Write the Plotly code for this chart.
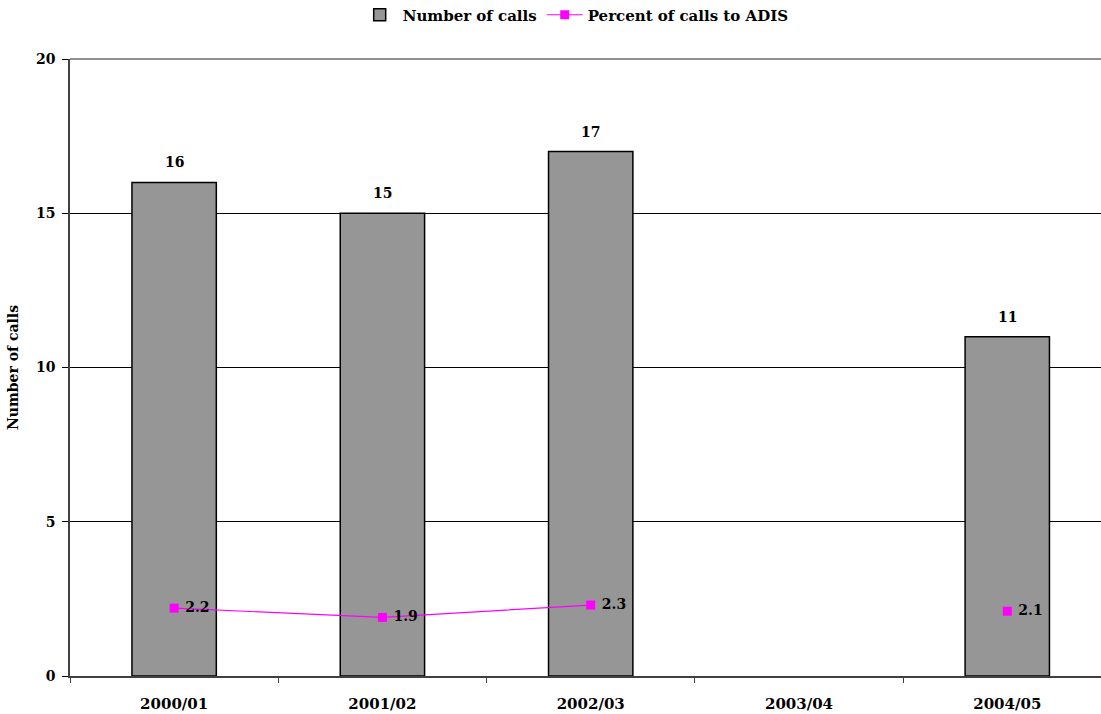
import plotly.graph_objects as go

# Financial years and the two series shown
years = ["2000/01", "2001/02", "2002/03", "2003/04", "2004/05"]
calls = [16, 15, 17, None, 11]
pct_adis = [2.2, 1.9, 2.3, None, 2.1]

FONT = "DejaVu Serif"
SIZE = 14

fig = go.Figure()

fig.add_trace(go.Bar(
    x=years, y=calls, name="<b>Number of calls</b>",
    marker=dict(color="#969696", line=dict(color="#000000", width=1.5)),
    width=0.405,
))

fig.add_trace(go.Scatter(
    x=years, y=pct_adis, name="<b>Percent of calls to ADIS</b>",
    mode="lines+markers+text",
    line=dict(color="#FF00FF", width=1.2),
    marker=dict(symbol="square", size=9, color="#FF00FF"),
    text=[("" if v is None else f"{v:.1f}") for v in pct_adis],
    texttemplate=" <b>%{text}</b>",
    textposition="middle right",
    textfont=dict(family=FONT, size=SIZE, color="#000000"),
    connectgaps=False,
    cliponaxis=False,
))

# Value labels above the bars
for yr, v in zip(years, calls):
    if v is None:
        continue
    fig.add_annotation(
        x=yr, y=v, text=f"<b>{v}</b>", showarrow=False,
        yanchor="bottom", yshift=10,
        font=dict(family=FONT, size=SIZE, color="#000000"),
    )

# Grey border along the top of the plotting area
fig.add_shape(type="line", xref="paper", yref="paper", x0=0, x1=1, y0=1, y1=1,
              line=dict(color="#909090", width=2))

fig.update_layout(
    width=1101, height=714,
    margin=dict(l=70, r=0, t=59, b=38),
    plot_bgcolor="#FFFFFF", paper_bgcolor="#FFFFFF",
    font=dict(family=FONT, size=SIZE, color="#000000"),
    showlegend=True,
    legend=dict(
        orientation="h", x=0.49, xanchor="center",
        yref="container", y=0.979, yanchor="middle",
        font=dict(family=FONT, size=15, color="#000000"),
        traceorder="normal", itemwidth=36,
    ),
)

fig.update_xaxes(
    type="category", range=[-0.5, 4.45],
    automargin=False,
    showline=True, linecolor="#404040", linewidth=1.5,
    ticks="outside", tickson="boundaries", ticklen=5, tickcolor="#404040",
    showgrid=False,
    ticklabelstandoff=13,
    tickprefix="<b>", ticksuffix="</b>",
    tickfont=dict(family=FONT, size=15, color="#000000"),
)
fig.update_yaxes(
    range=[0, 20], dtick=5,
    automargin=False,
    showline=True, linecolor="#404040", linewidth=1.5,
    ticks="outside", ticklen=6, tickcolor="#000000",
    showgrid=True, gridcolor="#000000", gridwidth=1,
    zeroline=False,
    ticklabelstandoff=4,
    tickprefix="<b>", ticksuffix="</b>",
    tickfont=dict(family=FONT, size=SIZE, color="#000000"),
    title=dict(text="<b>Number of calls</b>", font=dict(family=FONT, size=SIZE), standoff=14),
)

fig.write_html("out.html")
